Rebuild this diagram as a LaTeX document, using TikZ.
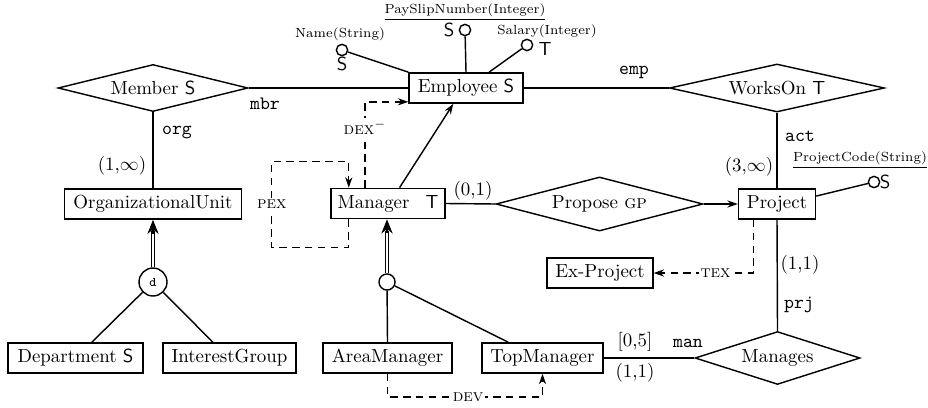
\documentclass[tikz,border=0pt]{standalone}
\usetikzlibrary{shapes.geometric,arrows.meta,calc}
\begin{document}
\begin{tikzpicture}[x=0.529pt,y=-0.529pt, line width=0.75pt,
 ent/.style={draw, minimum height=16pt, inner sep=0pt},
 rel/.style={draw, diamond, aspect=4, inner sep=0pt},
 attr/.style={circle, draw, minimum size=6pt, inner sep=0pt},
 small/.style={font=\scriptsize},
 role/.style={font=\ttfamily},
 dsh/.style={dash pattern=on 4pt off 2.8pt},
 tip/.style={-{Stealth[length=5.5pt,width=3.8pt]}},
 bigtip/.style={-{Stealth[length=7.5pt,width=6pt]}},
 dbl/.style={double distance=1.4pt, line width=0.6pt},
 lab/.style={fill=white, inner sep=1pt, font=\small\scshape}]
\useasboundingbox (0,0) rectangle (928,407);

% entities and relationships
\node[ent, minimum width=60.3pt] (emp) at (466,88) {Employee \textsf{S}};
\node[rel, minimum width=100.5pt, minimum height=24.9pt] (mem) at (153,88) {Member \textsf{S}};
\node[rel, minimum width=113.7pt, minimum height=25.4pt] (wo) at (777,88) {WorksOn \textsf{T}};
\node[ent, minimum width=93.6pt] (ou) at (153,204) {OrganizationalUnit};
\node[ent, minimum width=60.3pt] (mgr) at (388,203.5) {Manager\hspace{8.5pt}\textsf{T}};
\node[rel, minimum width=109.5pt, minimum height=28.6pt] (pro) at (599.5,204) {Propose \textsc{gp}};
\node[ent, minimum width=40.7pt] (proj) at (777,204) {Project};
\node[ent, minimum width=56pt] (exp) at (600,273) {Ex-Project};
\node[circle, draw, minimum size=14.8pt, inner sep=0pt, font=\ttfamily\scriptsize] (d) at (153,282) {d};
\node[ent, minimum width=71.4pt] (dep) at (75.5,358) {Department \textsf{S}};
\node[ent, minimum width=70.4pt] (ig) at (229.5,358) {InterestGroup};
\node[circle, draw, minimum size=8.5pt, inner sep=0pt] (sp) at (387,282) {};
\node[ent, minimum width=68.2pt] (am) at (387.5,358) {AreaManager};
\node[ent, minimum width=64pt] (tm) at (542.5,358) {TopManager};
\node[rel, minimum width=87.3pt, minimum height=28pt] (man) at (777.5,358) {Manages};

% attributes
\node[attr] (a1) at (342,50) {};
\node[font=\sffamily] (a1s) at (342,64) {S};
\node[small] (a1l) at (340,34) {Name(String)};
\node[attr] (a2) at (465,30) {};
\node[font=\sffamily] (a2s) at (449,30) {S};
\node[small] (a2l) at (465,12) {\underline{PaySlipNumber(Integer)}};
\node[attr] (a3) at (527,45) {};
\node[font=\sffamily] (a3s) at (545,49) {T};
\node[small] (a3l) at (547,31) {Salary(Integer)};
\node[attr] (a4) at (874,182) {};
\node[font=\sffamily] (a4s) at (885,182) {S};
\node[small] (a4l) at (860,160) {\underline{ProjectCode(String)}};

\draw (a1) -- (emp.north west);
\draw (a2) -- (emp.north);
\draw (a3) -- ($(emp.north west)!0.7!(emp.north east)$);
\draw (a4) -- ($(proj.north east)!0.25!(proj.south east)$);

% relationship connectors
\draw (mem.east) -- (emp.west);
\draw (emp.east) -- (wo.west);
\draw (mem.south) -- (ou.north);
\draw (wo.south) -- (proj.north);
\draw (mgr.east) -- (pro.west);
\draw[tip] (pro.east) -- (proj.west);
\draw (proj.south) -- (man.north);
\draw (tm.east) -- (man.west);
\draw[tip] ($(mgr.north west)!0.6!(mgr.north east)$) -- ($(emp.south west)!0.39!(emp.south east)$);

% generalizations
\draw (d) -- ($(dep.north west)!0.62!(dep.north east)$);
\draw (d) -- ($(ig.north west)!0.376!(ig.north east)$);
\draw[dbl, shorten >=6pt] (d) -- (ou.south);
\draw[bigtip] ($(ou.south)+(0,14)$) -- (ou.south);
\draw (sp) -- (am.north);
\draw (sp) -- ($(tm.north west)!0.22!(tm.north east)$);
\draw[dbl, shorten >=6pt] (sp) -- (mgr.south -| sp);
\draw[bigtip] ($(mgr.south -| sp)+(0,14)$) -- (mgr.south -| sp);

% dashed constraints
\draw[dsh, tip] ($(mgr.north west)!0.3!(mgr.north east)$) |- ($(emp.south west)+(0,-2)$) node[lab, pos=0.35] (dexl) {dex$^-$};
\draw[dsh, tip] ($(mgr.south west)!0.16!(mgr.south east)$) -- ++(0,28) -- ++(-77,0) -- ++(0,-86) node[lab, pos=0.5] (pexl) {pex} -- ++(77,0) -- ($(mgr.north west)!0.16!(mgr.north east)$);
\draw[dsh, tip] ($(proj.south west)!0.2!(proj.south east)$) |- (exp.east) node[lab, pos=0.69] (texl) {tex};
\draw[dsh, tip] (am.south) -- ++(0,23) -| (tm.south) node[lab, pos=0.26] (devl) {dev};

% role and cardinality labels
\node[role] (lmbr) at (265,104) {mbr};
\node[role] (lemp) at (634,72) {emp};
\node[role] (lorg) at (177,132) {org};
\node (lou) at (122,166) {(1,$\infty$)};
\node[role] (lact) at (800,136) {act};
\node (lproj) at (749,167) {(3,$\infty$)};
\node (lmgr) at (473,191) {(0,1)};
\node (lpm) at (800,265) {(1,1)};
\node[role] (lprj) at (799,305) {prj};
\node (ltm1) at (635,342) {[0,5]};
\node (ltm2) at (635,373) {(1,1)};
\node[role] (lman) at (688,343) {man};
\end{tikzpicture}
\end{document}
